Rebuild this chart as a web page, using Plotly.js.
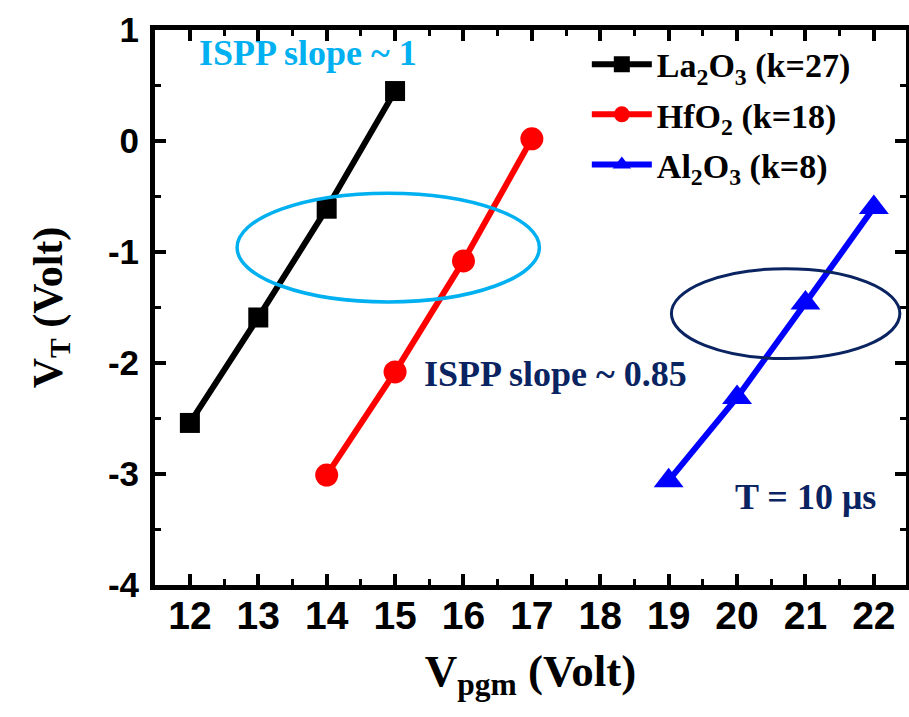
<!DOCTYPE html>
<html>
<head>
<meta charset="utf-8">
<script src="https://cdn.plot.ly/plotly-3.0.1.min.js"></script>
<style>html,body{margin:0;padding:0;background:#fff;}#chart{width:909px;height:717px;}</style>
</head>
<body>
<div id="chart"></div>
<script>
// Data
const la2o3_x = [12, 13, 14, 15];
const la2o3_y = [-2.54, -1.59, -0.61, 0.45];
const hfo2_x = [14, 15, 16, 17];
const hfo2_y = [-3.01, -2.08, -1.08, 0.02];
const al2o3_x = [19, 20, 21, 22];
const al2o3_y = [-3.06, -2.31, -1.46, -0.60];
const seriesNames = ["La<sub>2</sub>O<sub>3</sub> (k=27)", "HfO<sub>2</sub> (k=18)", "Al<sub>2</sub>O<sub>3</sub> (k=8)"];
const xTicks = [12, 13, 14, 15, 16, 17, 18, 19, 20, 21, 22];
const yTicks = [-4, -3, -2, -1, 0, 1];
// ellipse extents in data units [x0, x1, y0, y1]
const cyanEllipse = [12.69, 17.11, -1.45, -0.47];
const navyEllipse = [19.04, 22.38, -1.96, -1.15];

const serif = "Liberation Serif, Times New Roman, serif";
const sans = "Liberation Sans, Arial, sans-serif";

const traces = [
  {x: la2o3_x, y: la2o3_y, name: seriesNames[0], legendgroup: "a", mode: "lines+markers",
   line: {color: "#000000", width: 6}, marker: {symbol: "square", size: 20, color: "#000000"}},
  {x: hfo2_x, y: hfo2_y, name: seriesNames[1], legendgroup: "b", mode: "lines+markers",
   line: {color: "#ff0000", width: 6}, marker: {symbol: "circle", size: 23, color: "#ff0000"}},
  {x: al2o3_x, y: al2o3_y, name: seriesNames[2], legendgroup: "c", mode: "lines+markers",
   line: {color: "#0000ff", width: 6}, marker: {symbol: "triangle-up", size: 26, color: "#0000ff"}}
];

const axisCommon = {
  showline: true, linecolor: "#000", linewidth: 5, mirror: "ticks",
  ticks: "inside", ticklen: 11, tickwidth: 4, tickcolor: "#000",
  showgrid: false, zeroline: false
};

const layout = {
  width: 909, height: 717,
  margin: {l: 155, r: 3, t: 30, b: 132},
  paper_bgcolor: "#fff", plot_bgcolor: "#fff",
  showlegend: true,
  legend: {x: 0.575, y: 0.99, xanchor: "left", yanchor: "top",
           font: {family: serif, size: 34, color: "#000", weight: "bold"},
           traceorder: "grouped", tracegroupgap: 3, bgcolor: "rgba(0,0,0,0)", itemwidth: 60},
  xaxis: Object.assign({}, axisCommon, {
    range: [11.49, 22.47], tickvals: xTicks, ticktext: xTicks.map(String),
    ticklabelstandoff: -8,
    tickfont: {family: sans, size: 39, color: "#000", weight: "bold"},
    minor: {ticks: "inside", ticklen: 6, tickwidth: 3, dtick: 0.5, tick0: 0, tickcolor: "#000"},
    title: {text: "V<sub>pgm</sub> (Volt)", standoff: 20,
            font: {family: serif, size: 45, color: "#000", weight: "bold"}}
  }),
  yaxis: Object.assign({}, axisCommon, {
    range: [-4, 1], tickvals: yTicks, ticktext: yTicks.map(String),
    ticklabelstandoff: 4,
    tickfont: {family: sans, size: 35, color: "#000", weight: "bold"},
    minor: {ticks: "inside", ticklen: 6, tickwidth: 3, dtick: 0.5, tick0: 0, tickcolor: "#000"},
    title: {text: "V<sub>T</sub> (Volt)", standoff: 34,
            font: {family: serif, size: 42, color: "#000", weight: "bold"}}
  }),
  shapes: [
    {type: "circle", xref: "x", yref: "y", x0: cyanEllipse[0], x1: cyanEllipse[1],
     y0: cyanEllipse[2], y1: cyanEllipse[3], line: {color: "#00b0f0", width: 3.5}},
    {type: "circle", xref: "x", yref: "y", x0: navyEllipse[0], x1: navyEllipse[1],
     y0: navyEllipse[2], y1: navyEllipse[3], line: {color: "#0a2361", width: 3}}
  ],
  annotations: [
    {text: "ISPP slope ~ 1", xref: "paper", yref: "paper", x: 0.056, y: 0.998,
     xanchor: "left", yanchor: "top", showarrow: false,
     font: {family: serif, size: 36, color: "#00b0f0", weight: "bold"}},
    {text: "ISPP slope ~ 0.85", xref: "paper", yref: "paper", x: 0.355, y: 0.38,
     xanchor: "left", yanchor: "middle", showarrow: false,
     font: {family: serif, size: 36, color: "#0a2361", weight: "bold"}},
    {text: "T = 10 μs", xref: "paper", yref: "paper", x: 0.77, y: 0.158,
     xanchor: "left", yanchor: "middle", showarrow: false,
     font: {family: serif, size: 36, color: "#0a2361", weight: "bold"}}
  ]
};

Plotly.newPlot("chart", traces, layout, {displayModeBar: false, staticPlot: true});
</script>
</body>
</html>
